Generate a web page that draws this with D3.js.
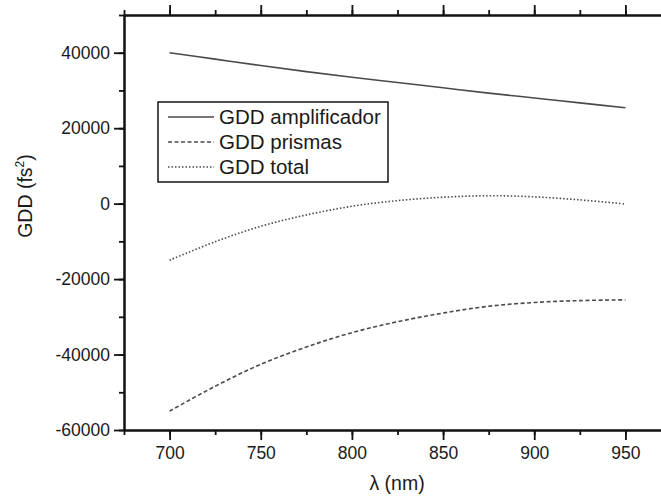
<!DOCTYPE html>
<html lang="es">
<head>
<meta charset="utf-8">
<script src="https://d3js.org/d3.v7.min.js"></script>
<style>
  body { margin: 0; background: #fff; }
  svg text { font-family: "Liberation Sans", Arial, sans-serif; fill: #1a1a1a; }
</style>
</head>
<body>
<div id="chart"></div>
<script>
// wavelength (nm)
const lambda = [700, 725, 750, 775, 800, 825, 850, 875, 900, 925, 950];
// GDD in fs^2
const gddAmplificador = [40000, 38300, 36600, 35000, 33500, 32100, 30700, 29300, 28000, 26700, 25400];
const gddPrismas = [-55000, -48400, -42600, -38000, -34200, -31300, -29000, -27200, -26200, -25700, -25500];
const gddTotal = [-15000, -10100, -6000, -3000, -700, 800, 1700, 2100, 1800, 1000, -100];

const xTicks = [700, 750, 800, 850, 900, 950];
const yTicks = [-60000, -40000, -20000, 0, 20000, 40000];
const legendNames = ["GDD amplificador", "GDD prismas", "GDD total"];

const W = 661, H = 497;
const plotLeft = 124, plotTop = 15, plotBottom = 430, plotRight = 671;

const svg = d3.select("#chart").append("svg")
  .attr("width", W).attr("height", H);

const x = d3.scaleLinear().domain([675, 975]).range([plotLeft, plotRight]);
const y = d3.scaleLinear().domain([-60000, 50000]).range([plotBottom, plotTop]);

const lineColor = "#4a4a4a";
const plain = d => String(d);   // hyphen minus like the original

function styleAxis(g) {
  g.select(".domain").attr("stroke", "#111").attr("stroke-width", 2);
  g.selectAll(".tick line").attr("stroke", "#111").attr("stroke-width", 1.8);
  g.selectAll(".tick text").style("font-size", "17.5px").attr("fill", "#1a1a1a");
}

// minor ticks first
svg.append("g").attr("transform", `translate(0,${plotBottom})`)
  .call(d3.axisBottom(x).tickValues(d3.range(675, 976, 25)).tickSize(5).tickFormat("").tickSizeOuter(0))
  .call(styleAxis);
svg.append("g").attr("transform", `translate(0,${plotTop})`)
  .call(d3.axisTop(x).tickValues(d3.range(675, 976, 25)).tickSize(5).tickFormat("").tickSizeOuter(0))
  .call(styleAxis);
svg.append("g").attr("transform", `translate(${plotLeft},0)`)
  .call(d3.axisLeft(y).tickValues(d3.range(-60000, 50001, 10000)).tickSize(5).tickFormat("").tickSizeOuter(0))
  .call(styleAxis);

// major ticks
svg.append("g").attr("transform", `translate(0,${plotBottom})`)
  .call(d3.axisBottom(x).tickValues(xTicks).tickSize(10).tickPadding(7).tickSizeOuter(0).tickFormat(plain))
  .call(styleAxis);
svg.append("g").attr("transform", `translate(0,${plotTop})`)
  .call(d3.axisTop(x).tickValues(xTicks).tickSize(10).tickFormat("").tickSizeOuter(0))
  .call(styleAxis);
svg.append("g").attr("transform", `translate(${plotLeft},0)`)
  .call(d3.axisLeft(y).tickValues(yTicks).tickSize(10).tickPadding(4).tickSizeOuter(0).tickFormat(plain))
  .call(styleAxis);

// axis titles
svg.append("text")
  .attr("x", 397).attr("y", 490)
  .attr("text-anchor", "middle")
  .style("font-size", "19.5px")
  .text("λ (nm)");

const yl = svg.append("text")
  .attr("transform", "translate(32,196) rotate(-90)")
  .attr("text-anchor", "middle")
  .style("font-size", "19.5px");
yl.append("tspan").text("GDD (fs");
yl.append("tspan").attr("dy", -8).style("font-size", "12px").text("2");
yl.append("tspan").attr("dy", 8).text(")");

// curves
const series = [
  { vals: gddAmplificador, dash: null },
  { vals: gddPrismas, dash: "4,2.5" },
  { vals: gddTotal, dash: "1.5,2" }
];

const line = d3.line()
  .x(d => x(d[0]))
  .y(d => y(d[1]))
  .curve(d3.curveCatmullRom);

series.forEach(s => {
  svg.append("path")
    .datum(lambda.map((l, i) => [l, s.vals[i]]))
    .attr("fill", "none")
    .attr("stroke", lineColor)
    .attr("stroke-width", 1.6)
    .attr("stroke-dasharray", s.dash)
    .attr("d", line);
});

// legend
const lg = svg.append("g").attr("transform", "translate(158,102)");
lg.append("rect")
  .attr("width", 230).attr("height", 80)
  .attr("fill", "#fff").attr("stroke", "#222").attr("stroke-width", 1.6);
legendNames.forEach((name, i) => {
  const yy = 15 + i * 25;
  lg.append("line")
    .attr("x1", 10).attr("x2", 56).attr("y1", yy).attr("y2", yy)
    .attr("stroke", lineColor).attr("stroke-width", 1.4)
    .attr("stroke-dasharray", series[i].dash);
  lg.append("text")
    .attr("x", 61).attr("y", yy + 7)
    .style("font-size", "20.5px")
    .text(name);
});
</script>
</body>
</html>
